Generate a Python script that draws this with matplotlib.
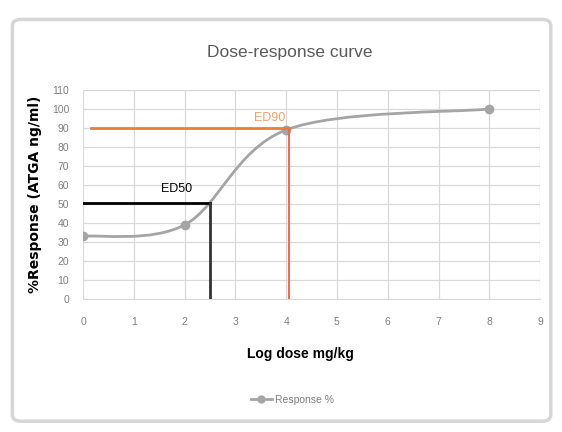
import matplotlib
matplotlib.use("Agg")
import matplotlib.pyplot as plt
from matplotlib.path import Path
from matplotlib.patches import PathPatch, FancyBboxPatch
from matplotlib.lines import Line2D

plt.rcParams['font.family'] = ['Liberation Sans Narrow', 'Liberation Sans', 'DejaVu Sans']

# data
dose = [0, 2, 4, 8]
response = [33, 39, 89, 100]
ed50_dose, ed50_resp = 2.5, 50.5
ed90_dose, ed90_resp = 4.05, 90
x_ticks = list(range(0, 10))
y_ticks = list(range(0, 111, 10))

grey = '#A5A5A5'
orange = '#ED7D31'

fig = plt.figure(figsize=(5.62, 4.32), dpi=100)

# chart frame (behind the axes)
frame = FancyBboxPatch((0.022, 0.025), 0.958, 0.93, boxstyle="round,pad=0,rounding_size=0.015",
                       transform=fig.transFigure, facecolor='white', edgecolor='#D6D6D6', lw=2.5, zorder=-1)
fig.patches.append(frame)

ax = fig.add_axes([0.1477, 0.3079, 0.8133, 0.4838])
ax.set_zorder(1)
ax.patch.set_alpha(0)

# Excel style smoothed line -> bezier segments through the points
pts = list(zip(dose, response))
verts = [pts[0]]
codes = [Path.MOVETO]
for i in range(len(pts) - 1):
    p0 = pts[i - 1] if i > 0 else pts[i]
    p1 = pts[i]
    p2 = pts[i + 1]
    p3 = pts[i + 2] if i + 2 < len(pts) else pts[i + 1]
    c1 = (p1[0] + (p2[0] - p0[0]) / 6, p1[1] + (p2[1] - p0[1]) / 6)
    c2 = (p2[0] - (p3[0] - p1[0]) / 6, p2[1] - (p3[1] - p1[1]) / 6)
    verts += [c1, c2, p2]
    codes += [Path.CURVE4] * 3
ax.add_patch(PathPatch(Path(verts, codes), facecolor='none', edgecolor=grey, lw=2, zorder=3))
ax.plot(dose, response, 'o', color=grey, ms=6, zorder=4)

# ED50 lines
ax.plot([0, ed50_dose], [ed50_resp, ed50_resp], color='black', lw=2, zorder=5)
ax.plot([ed50_dose, ed50_dose], [0, ed50_resp], color='#333333', lw=2, zorder=5)
ax.text(1.85, 58, 'ED50', color='black', fontsize=9, ha='center', va='center')

# ED90 lines
ax.plot([0.15, ed90_dose], [ed90_resp, ed90_resp], color=orange, lw=2, zorder=5)
ax.plot([ed90_dose, ed90_dose], [0, ed90_resp], color='#E2725B', lw=1.5, zorder=5)
ax.text(3.68, 95.5, 'ED90', color='#F0A070', fontsize=9, ha='center', va='center')

ax.set_xlim(0, 9)
ax.set_ylim(0, 110)
ax.set_xticks(x_ticks)
ax.set_yticks(y_ticks)
ax.grid(True, color='#D9D9D9', lw=0.9)
ax.set_axisbelow(True)
for s in ['top', 'right', 'left']:
    ax.spines[s].set_visible(False)
ax.spines['bottom'].set_color('#D9D9D9')
ax.tick_params(length=0, colors='#7F7F7F', labelsize=7.5)
ax.tick_params(axis='x', pad=13)
ax.tick_params(axis='y', pad=10)

fig.text(0.516, 0.878, 'Dose-response curve', ha='center', va='center', fontsize=12.5, color='#595959')
fig.text(0.062, 0.55, '%Response (ATGA ng/ml)', rotation=90, ha='center', va='center',
         fontsize=10, fontweight='bold', family=['DejaVu Sans'])
fig.text(0.535, 0.18, 'Log dose mg/kg', ha='center', va='center', fontsize=10, fontweight='bold')

h = Line2D([], [], color=grey, lw=2, marker='o', ms=5)
fig.legend([h], ['Response %'], loc='center', bbox_to_anchor=(0.52, 0.075), frameon=False,
           fontsize=7.5, labelcolor='#7F7F7F', handlelength=2, handletextpad=0.3)

fig.savefig('out.png', dpi=100)
